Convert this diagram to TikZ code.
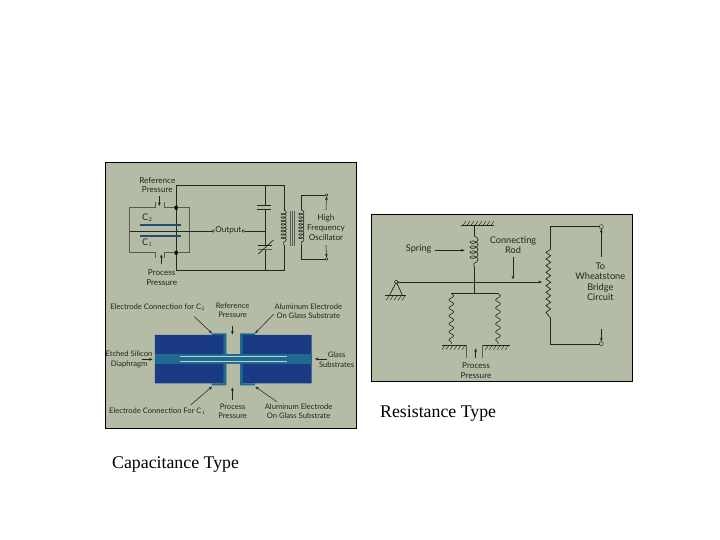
\documentclass[tikz,border=0pt]{standalone}
\usepackage{fontspec}
\setmainfont{Lato}
\newfontfamily\capfont{Liberation Serif}
\usetikzlibrary{arrows.meta,decorations.pathmorphing,patterns}
\definecolor{panel}{HTML}{B4BCA6}
\definecolor{ink}{HTML}{22261F}
\definecolor{grayp}{HTML}{565C50}
\definecolor{deepb}{HTML}{1B3A84}
\definecolor{tealb}{HTML}{1F6A8E}
\definecolor{lightb}{HTML}{B5D5D5}
\definecolor{plate}{HTML}{1F4F6E}
\tikzset{
  panelbox/.style={fill=panel,draw=black,line width=0.7pt},
  wire/.style={draw=ink,line width=0.7pt},
  pipe/.style={draw=grayp,line width=1pt},
  lab/.style={font=\fontsize{7.6}{9.2}\selectfont,text=ink,align=center,inner sep=0pt},
  labm/.style={font=\fontsize{8.2}{9.8}\selectfont,text=ink,align=center,inner sep=0pt},
  labr/.style={font=\fontsize{9.2}{10.4}\selectfont,text=ink,align=center,inner sep=0pt},
  captext/.style={font=\capfont\fontsize{17.8}{20}\selectfont,text=black,inner sep=0pt,anchor=west},
  arr/.style={draw=ink,line width=0.55pt,-{Stealth[length=3.6pt,width=2.8pt]}},
  term/.style={circle,draw=ink,line width=0.45pt,fill=panel,inner sep=0pt,minimum size=2.6pt},
  coilw/.style={draw=ink,line width=0.6pt,decorate,decoration={coil,aspect=0.6,segment length=3.4pt,amplitude=2.6pt}},
  springw/.style={draw=ink,line width=0.6pt,decorate,decoration={coil,aspect=0.6,segment length=5pt,amplitude=4pt}},
  bellow/.style={draw=ink,line width=0.6pt,decorate,decoration={snake,segment length=8pt,amplitude=2.4pt}},
  hatchg/.style={draw=ink,line width=0.45pt},
  z1/.style={shift={(100,155)},x=0.3333pt,y=-0.3333pt},
  z2/.style={shift={(100,290)},x=0.3333pt,y=-0.3333pt},
  z3/.style={shift={(368,210)},x=0.3333pt,y=-0.3333pt}
}
\begin{document}
\begin{tikzpicture}[x=1pt,y=-1pt]
\useasboundingbox (0,0) rectangle (720,540);
\fill[white] (0,0) rectangle (720,540);
\draw[panelbox] (105,162) rectangle (356,428);
\draw[panelbox] (371,214) rectangle (632,381);

% ---------- capacitive circuit
\begin{scope}[z1]
\draw[wire] (228,90) -- (553,90) -- (553,165);
\draw[wire] (228,90) -- (228,347) -- (553,347) -- (553,270);
\draw[wire] (495,90) -- (495,152);
\draw[wire,line width=0.9pt] (472,152) -- (514,152) (472,163) -- (514,163);
\draw[wire] (495,163) -- (495,272);
\draw[wire,line width=0.9pt] (474,272) -- (516,272);
\draw[pipe] (474,284) -- (516,284);
\draw[wire] (495,284) -- (495,347);
\draw[wire] (475,297) -- (520,255);
\draw[coilw] (551,165) -- (551,270);
\draw[pipe] (572,168) -- (572,273) (578,168) -- (578,273) (585,168) -- (585,273);
\draw[coilw] (604,165) -- (604,270);
\draw[wire] (604,165) -- (604,120) -- (680,120);
\draw[wire] (604,270) -- (604,312) -- (680,312);
\node[term] (ta) at (680,120) {};
\node[term] (tb) at (680,312) {};
\coordinate (oa) at (678,165);
\coordinate (ob) at (678,270);
\draw[arr] (oa) -- (ta);
\draw[arr] (ob) -- (tb);
\node[labm] (osc) at (678,217) {High\\Frequency\\Oscillator};
% housing
\draw[pipe] (168,142) -- (168,158) -- (90,158) -- (90,228);
\draw[pipe] (195,142) -- (195,158) -- (270,158) -- (270,228);
\draw[pipe] (168,310) -- (168,293) -- (90,293) -- (90,228);
\draw[pipe] (195,310) -- (195,293) -- (270,293) -- (270,228);
\fill[black] (224,153) rectangle (233,164) (224,288) rectangle (233,299);
\draw[plate,line width=2pt] (120,211) -- (243,211) (120,243) -- (243,243);
\draw[wire] (105,228) -- (340,228);
\node[term] (o1) at (340,228) {};
\node[term] (o2) at (430,228) {};
\node[labm] (out) at (385,226) {Output};
\draw[wire] (o2) -- (495,228);
\draw[wire] (90,228) -- (105,228);
\node[labr] (c2) at (142,189) {C$_2$};
\node[labr] (c1) at (142,263) {C$_1$};
\node[labm] (rp) at (172,90) {Reference\\Pressure};
\node[labm] (pp) at (185,367) {Process\\Pressure};
\coordinate (ra) at (178,122);
\coordinate (rb) at (178,153);
\coordinate (pa) at (184,328);
\coordinate (pb) at (184,298);
\draw[arr] (ra) -- (rb);
\draw[arr] (pa) -- (pb);
\end{scope}

% ---------- capacitive section
\begin{scope}[z2]
\fill[deepb] (165,135) rectangle (375,280) (422,135) rectangle (635,280);
\fill[tealb] (165,192) rectangle (635,222);
\fill[tealb] (335,130) rectangle (375,135) (370,130) rectangle (380,192);
\fill[tealb] (422,130) rectangle (465,135) (420,130) rectangle (428,192);
\fill[tealb] (335,280) rectangle (375,286) (370,222) rectangle (380,286);
\fill[tealb] (422,280) rectangle (465,286) (420,222) rectangle (428,286);
\fill[panel] (380,130) rectangle (420,192) (380,222) rectangle (420,290);
\draw[lightb,line width=1pt] (240,199) -- (560,199) (240,215) -- (560,215);
\node[lab] (e2) at (173,52) {Electrode Connection for C$_2$};
\node[lab] (rp2) at (398,61) {Reference\\Pressure};
\node[lab] (al1) at (625,63) {Aluminum Electrode\\On Glass Substrate};
\node[lab] (si) at (87,208) {Etched Silicon\\Diaphragm};
\node[lab] (gl) at (710,209) {Glass\\Substrates};
\node[lab] (e1) at (172,365) {Electrode Connection For C$_1$};
\node[lab] (pp2) at (398,364) {Process\\Pressure};
\node[lab] (al2) at (596,364) {Aluminum Electrode\\On Glass Substrate};
\coordinate (a1) at (283,80);\coordinate (a1e) at (336,130);
\coordinate (a2) at (397,108);\coordinate (a2e) at (397,134);
\coordinate (a3) at (522,72);\coordinate (a3e) at (465,130);
\coordinate (a4) at (125,208);\coordinate (a4e) at (158,208);
\coordinate (a5) at (680,207);\coordinate (a5e) at (645,207);
\coordinate (a6) at (272,345);\coordinate (a6e) at (336,290);
\coordinate (a7) at (397,330);\coordinate (a7e) at (397,292);
\coordinate (a8) at (530,335);\coordinate (a8e) at (466,290);
\foreach \p/\q in {a1/a1e,a2/a2e,a3/a3e,a4/a4e,a5/a5e,a6/a6e,a7/a7e,a8/a8e} \draw[arr] (\p) -- (\q);
\end{scope}

% ---------- resistance type
\begin{scope}[z3]
\draw[hatchg] (280,47) -- (378,47);
\foreach \i in {284,296,...,368} \draw[hatchg] (\i,47) -- (\i+10,33);
\draw[wire] (318,47) -- (318,78);
\draw[springw] (318,78) -- (318,172);
\draw[wire] (318,172) -- (318,250);
\node[term,minimum size=3.8pt] (piv) at (85,216) {};
\coordinate (rodend) at (522,216);
\draw[arr] (piv) -- (rodend);
\draw[wire] (85,216) -- (65,255) (85,216) -- (103,255);
\node[term,minimum size=3.8pt] at (85,216) {};
\draw[hatchg] (52,257) -- (115,257);
\foreach \i in {54,66,...,102} \draw[hatchg] (\i,271) -- (\i+10,257);
\draw[wire] (250,250) -- (390,250);
\draw[bellow] (250,250) -- (250,402);
\draw[bellow] (390,250) -- (390,402);
\draw[hatchg] (222,405) -- (297,405) (345,405) -- (425,405);
\foreach \i in {222,234,...,282} \draw[hatchg] (\i,419) -- (\i+10,405);
\foreach \i in {352,364,...,412} \draw[hatchg] (\i,419) -- (\i+10,405);
\draw[pipe] (297,405) -- (297,445) (345,405) -- (345,445);
\coordinate (pr1) at (323,445);\coordinate (pr2) at (323,415);
\draw[arr] (pr1) -- (pr2);
\node[labm] (pp3) at (324,483) {Process\\Pressure};
\node[labr] (spr) at (152,117) {Spring};
\coordinate (sp1) at (200,121);\coordinate (sp2) at (290,121);
\draw[arr] (sp1) -- (sp2);
\node[labr] (rod) at (435,105) {Connecting\\Rod};
\coordinate (cr1) at (435,140);\coordinate (cr2) at (435,208);
\draw[arr] (cr1) -- (cr2);
\draw[wire] (548,118) -- (548,50) -- (700,50);
\draw[wire] (548,325) -- (548,403) -- (700,403);
\draw[wire] (548,118) -- (534,127) -- (548,137) -- (534,147) -- (548,157) -- (534,167) -- (548,177) -- (534,187) -- (548,197) -- (534,207) -- (548,217) -- (534,227) -- (548,237) -- (534,247) -- (548,257) -- (534,267) -- (548,277) -- (534,287) -- (548,297) -- (534,307) -- (548,325);
\node[term,minimum size=4pt] (t1) at (700,50) {};
\node[term,minimum size=4pt] (t2) at (700,401) {};
\coordinate (w1) at (700,140);\coordinate (w2) at (700,358);
\draw[arr] (w1) -- (t1);
\draw[arr] (w2) -- (t2);
\node[labr] (wb) at (697,215) {To\\Wheatstone\\Bridge\\Circuit};
\end{scope}

\node[captext] (captr) at (380,414) {Resistance Type};
\node[captext] (captc) at (112,465) {Capacitance Type};
\end{tikzpicture}
\end{document}
